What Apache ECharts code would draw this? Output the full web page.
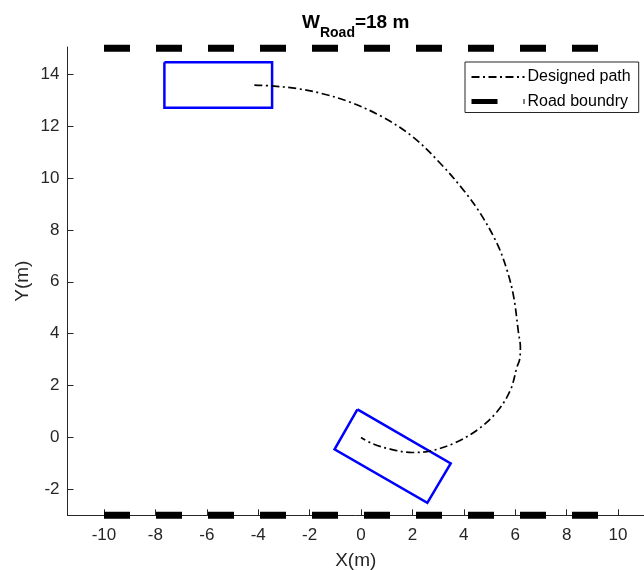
<!DOCTYPE html>
<html>
<head>
<meta charset="utf-8">
<script src="https://cdn.jsdelivr.net/npm/echarts@6/dist/echarts.min.js"></script>
<style>html,body{margin:0;padding:0;background:#fff}#c{width:644px;height:570px}</style>
</head>
<body>
<div id="c"></div>
<script>
// Designed path (x, y in metres)
var pathX = [-4.15, -3.5, -2.5, -1.5, -0.5, 0.75, 2.0, 3.09, 3.99, 4.64, 5.29, 5.68, 5.94, 6.13, 6.2, 6.17, 6.07, 5.81, 5.29, 4.51, 3.6, 2.7, 1.98, 1.14, 0.43, 0.0];
var pathY = [13.58, 13.55, 13.45, 13.25, 12.95, 12.4, 11.6, 10.56, 9.53, 8.64, 7.48, 6.45, 5.42, 4.01, 3.5, 3.0, 2.72, 1.82, 0.99, 0.28, -0.23, -0.52, -0.58, -0.45, -0.23, 0.0];
// Road boundaries
var roadX = [-10, 10];
var roadTopY = [15, 15];
var roadBottomY = [-3, -3];
// Vehicle outlines (closed polygons)
var car1X = [-7.65, -3.46, -3.46, -7.65, -7.65];
var car1Y = [14.46, 14.46, 12.71, 12.71, 14.46];
var car2X = [-0.14, 3.49, 2.58, -1.03, -0.14];
var car2Y = [1.08, -1.00, -2.52, -0.46, 1.08];
// Ticks
var xTicks = [-10, -8, -6, -4, -2, 0, 2, 4, 6, 8, 10];
var yTicks = [-2, 0, 2, 4, 6, 8, 10, 12, 14];
var legendNames = ['Designed path', 'Road boundry'];

function zip(a, b) { return a.map(function (v, i) { return [v, b[i]]; }); }

var FONT = 'Liberation Sans, Arial, Helvetica, sans-serif';
var TXT = '#262626';

var chart = echarts.init(document.getElementById('c'), null, { renderer: 'canvas' });
chart.setOption({
  animation: false,
  backgroundColor: '#fff',
  textStyle: { fontFamily: FONT },
  title: {
    text: '{a|W}{b|Road}{a|=18 m}',
    left: 302, top: 13, padding: 0,
    textStyle: {
      rich: {
        a: { fontSize: 19, fontWeight: 'bold', color: '#000', fontFamily: FONT, lineHeight: 20, verticalAlign: 'top' },
        b: { fontSize: 14, fontWeight: 'bold', color: '#000', fontFamily: FONT, lineHeight: 16, verticalAlign: 'top', padding: [13, 0, 0, 0] }
      }
    }
  },
  legend: {
    orient: 'vertical',
    left: 465, top: 62,
    padding: [7, 8, 3, 4],
    itemWidth: 53, itemHeight: 14, itemGap: 8.5,
    borderColor: '#262626', borderWidth: 1, borderRadius: 0,
    backgroundColor: '#fff',
    itemStyle: { opacity: 0, borderWidth: 0 },
    textStyle: { fontSize: 16, color: '#000', fontFamily: FONT, padding: [0, 0, 0, -2] },
    data: [
      { name: legendNames[0] },
      { name: legendNames[1], lineStyle: { width: 5 } }
    ]
  },
  grid: { left: 67.5, right: 0, top: 47, bottom: 54.7, containLabel: false, outerBoundsMode: 'none' },
  xAxis: {
    type: 'value', min: -11.42, max: 11.01,
    name: 'X(m)', nameLocation: 'middle', nameGap: 36, nameMoveOverlap: false,
    nameTextStyle: { fontSize: 19, color: TXT, fontFamily: FONT },
    axisLine: { onZero: false, lineStyle: { color: TXT, width: 1 } },
    axisTick: { inside: true, length: 6, lineStyle: { color: TXT }, customValues: xTicks },
    axisLabel: { fontSize: 17, color: TXT, margin: 12, customValues: xTicks },
    splitLine: { show: false }
  },
  yAxis: {
    type: 'value', min: -3, max: 15.05,
    name: 'Y(m)', nameLocation: 'middle', nameGap: 35, nameMoveOverlap: false,
    nameTextStyle: { fontSize: 19, color: TXT, fontFamily: FONT },
    axisLine: { onZero: false, lineStyle: { color: TXT, width: 1 } },
    axisTick: { inside: true, length: 6, lineStyle: { color: TXT }, customValues: yTicks },
    axisLabel: { fontSize: 17, color: TXT, margin: 8, customValues: yTicks },
    splitLine: { show: false }
  },
  series: [
    {
      name: legendNames[0], type: 'line', data: zip(pathX, pathY), smooth: 0.35,
      showSymbol: false, symbol: 'none', z: 3,
      lineStyle: { color: '#000', width: 1.7, type: [8, 3.5, 2, 3.5] },
      itemStyle: { color: '#000' }
    },
    {
      name: legendNames[1], type: 'line', data: zip(roadX, roadTopY), clip: false,
      showSymbol: false, symbol: 'none', z: 4,
      lineStyle: { color: '#000', width: 7, type: [26, 26], cap: 'butt' },
      itemStyle: { color: '#000' }
    },
    {
      name: legendNames[1], type: 'line', data: zip(roadX, roadBottomY), clip: false,
      showSymbol: false, symbol: 'none', z: 4,
      lineStyle: { color: '#000', width: 7, type: [26, 26], cap: 'butt' },
      itemStyle: { color: '#000' }
    },
    {
      name: 'car1', type: 'line', data: zip(car1X, car1Y),
      showSymbol: false, symbol: 'none', z: 2,
      lineStyle: { color: '#0000ff', width: 2.5, join: 'miter' }
    },
    {
      name: 'car2', type: 'line', data: zip(car2X, car2Y),
      showSymbol: false, symbol: 'none', z: 2,
      lineStyle: { color: '#0000ff', width: 2.5, join: 'miter' }
    }
  ]
});
</script>
</body>
</html>
